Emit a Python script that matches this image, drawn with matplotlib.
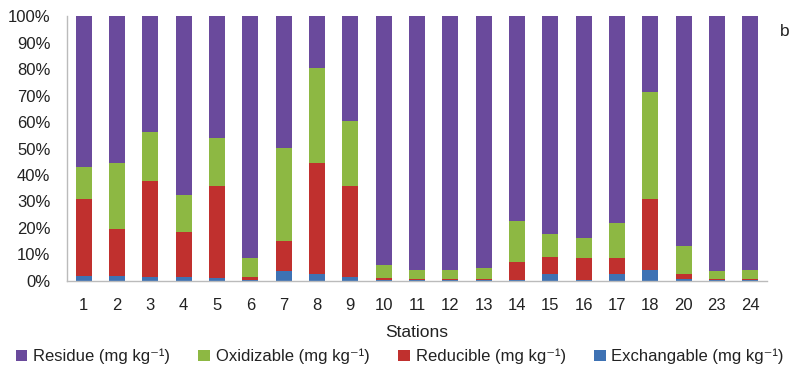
import matplotlib
matplotlib.use("Agg")
import matplotlib.pyplot as plt
import numpy as np
from matplotlib.ticker import PercentFormatter

plt.rcParams['font.family'] = ['Liberation Sans', 'DejaVu Sans']

stations = ["1", "2", "3", "4", "5", "6", "7", "8", "9", "10", "11", "12",
            "13", "14", "15", "16", "17", "18", "20", "23", "24"]
exchangable = [2.0, 1.9, 1.5, 1.5, 1.0, 0.3, 3.9, 2.5, 1.5, 0.3, 0.3, 0.3,
               0.3, 0.5, 2.5, 0.5, 2.5, 4.2, 0.6, 0.3, 0.3]
reducible = [28.8, 17.8, 36.2, 16.9, 34.8, 1.3, 11.2, 41.9, 34.3, 0.7, 0.5, 0.5,
             0.5, 6.8, 6.7, 8.1, 6.3, 26.6, 2.0, 0.5, 0.5]
oxidizable = [12.3, 24.7, 18.4, 14.1, 18.3, 7.0, 35.0, 35.9, 24.7, 5.0, 3.4, 3.4,
              4.0, 15.3, 8.4, 7.5, 13.2, 40.6, 10.7, 3.0, 3.4]
residue = [100 - (a + b + c) for a, b, c in zip(exchangable, reducible, oxidizable)]

series = [
    ("Exchangable (mg kg⁻¹)", exchangable, "#3E72B4"),
    ("Reducible (mg kg⁻¹)", reducible, "#C0302E"),
    ("Oxidizable (mg kg⁻¹)", oxidizable, "#8DB843"),
    ("Residue (mg kg⁻¹)", residue, "#6A4A9C"),
]

fig = plt.figure(figsize=(7.98, 3.76), dpi=100)
ax = fig.add_axes([0.084, 0.2527, 0.877, 0.7047])

x = np.arange(len(stations))
bottom = np.zeros(len(stations))
handles = {}
for label, vals, color in series:
    v = np.array(vals) / 100.0
    h = ax.bar(x, v, width=0.48, bottom=bottom, color=color, label=label)
    handles[label] = h
    bottom += v

ax.set_xlim(-0.5, len(stations) - 0.5)
ax.set_ylim(0, 1)
ax.set_yticks(np.arange(0, 1.01, 0.1))
ax.yaxis.set_major_formatter(PercentFormatter(1.0, decimals=0))
ax.set_xticks(x)
ax.set_xticklabels(stations)
ax.tick_params(axis='both', length=0, labelsize=12, colors='#222222')
ax.tick_params(axis='x', pad=12)
ax.tick_params(axis='y', pad=12)
for s in ['top', 'right']:
    ax.spines[s].set_visible(False)
for s in ['left', 'bottom']:
    ax.spines[s].set_color('#BBBBBB')
    ax.spines[s].set_linewidth(1.0)

ax.set_xlabel("Stations", fontsize=12.5, color='#222222', labelpad=9)

order = ["Residue (mg kg⁻¹)", "Oxidizable (mg kg⁻¹)",
         "Reducible (mg kg⁻¹)", "Exchangable (mg kg⁻¹)"]
leg = fig.legend([handles[k] for k in order], order, loc='center',
                 bbox_to_anchor=(0.501, 0.052), ncol=4, frameon=False,
                 fontsize=12, handlelength=0.7, handleheight=0.7,
                 handletextpad=0.35, columnspacing=1.7, borderpad=0)
for t in leg.get_texts():
    t.set_color('#222222')

fig.text(0.983, 0.905, "b", fontsize=12.5, color='#222222', ha='center')

fig.savefig("out.png", dpi=100)
